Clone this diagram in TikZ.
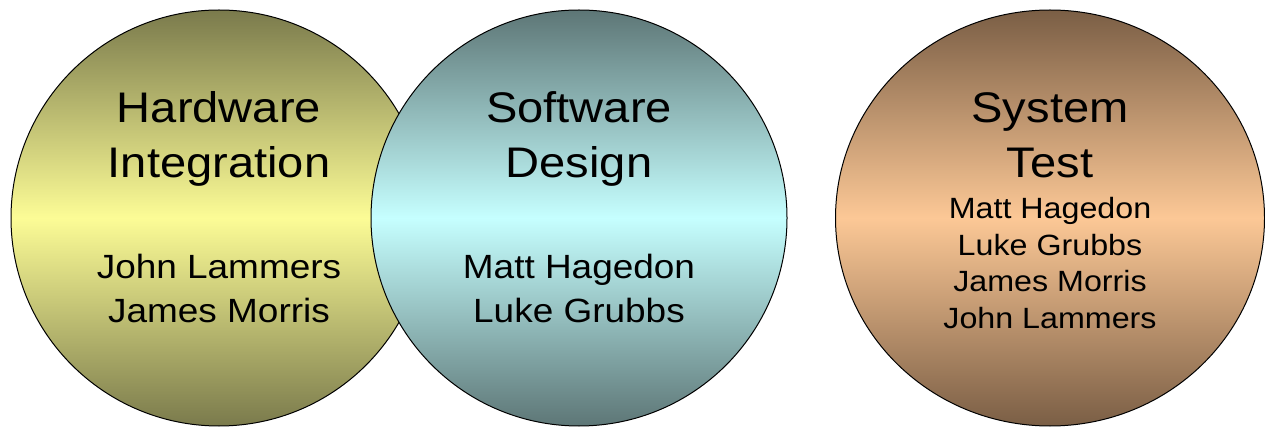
\documentclass[tikz,border=0pt]{standalone}
\usepackage{fontspec}
\setmainfont{Liberation Sans}[FakeStretch=1.1]
\usetikzlibrary{shapes.geometric}
\begin{document}
\begin{tikzpicture}[x=1pt,y=-1pt,
  disc/.style={circle, draw=black, line width=1pt, minimum size=416pt, inner sep=0pt},
  title/.style={anchor=base, inner sep=0pt, font=\fontsize{42.8}{50}\selectfont},
  member/.style={anchor=base, inner sep=0pt, font=\fontsize{33.6}{40}\selectfont},
  small/.style={anchor=base, inner sep=0pt, font=\fontsize{29.3}{36}\selectfont}]
\useasboundingbox (0,0) rectangle (1265,427);
\definecolor{hwdark}{HTML}{7A7A4C}
\definecolor{hwlight}{HTML}{FCFC96}
\definecolor{swdark}{HTML}{5D7676}
\definecolor{swlight}{HTML}{C6FFFF}
\definecolor{stdark}{HTML}{7A5E45}
\definecolor{stlight}{HTML}{FCC896}

% three team circles
\node[disc, top color=hwdark, bottom color=hwdark, middle color=hwlight] (hw) at (219,218) {};
\node[disc, top color=swdark, bottom color=swdark, middle color=swlight] (sw) at (579,218) {};
\node[draw=black, line width=1pt, inner sep=0pt, ellipse, minimum width=429pt, minimum height=416pt,
      top color=stdark, bottom color=stdark, middle color=stlight] (st) at (1050,218) {};

% Hardware Integration
\node[title] (hw1) at (219,123) {Hardware};
\node[title] (hw2) at (219,178) {Integration};
\node[member] (hw3) at (219,279) {John Lammers};
\node[member] (hw4) at (219,323) {James Morris};

% Software Design
\node[title] (sw1) at (579,123) {Software};
\node[title] (sw2) at (579,178) {Design};
\node[member] (sw3) at (579,279) {Matt Hagedon};
\node[member] (sw4) at (579,323) {Luke Grubbs};

% System Test
\node[title] (st1) at (1050,123) {System};
\node[title] (st2) at (1050,178) {Test};
\node[small] (st3) at (1050,219) {Matt Hagedon};
\node[small] (st4) at (1050,255.5) {Luke Grubbs};
\node[small] (st5) at (1050,292) {James Morris};
\node[small] (st6) at (1050,328) {John Lammers};
\end{tikzpicture}
\end{document}
